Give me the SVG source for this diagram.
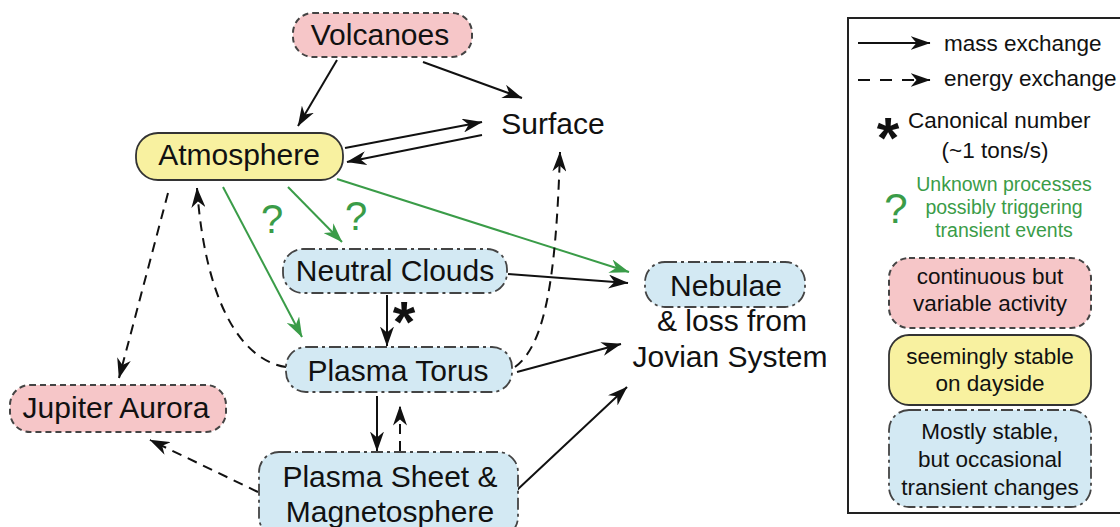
<svg xmlns="http://www.w3.org/2000/svg" width="1120" height="527" viewBox="0 0 1120 527">
<defs>
<marker id="ah" viewBox="0 0 20 14" refX="19.5" refY="7" markerWidth="20" markerHeight="14" orient="auto" markerUnits="userSpaceOnUse"><path d="M0,0 L20,7 L0,14 L6,7 Z" fill="#111"/></marker>
<marker id="ahg" viewBox="0 0 20 14" refX="19.5" refY="7" markerWidth="20" markerHeight="14" orient="auto" markerUnits="userSpaceOnUse"><path d="M0,0 L20,7 L0,14 L6,7 Z" fill="#3a9c48"/></marker>
<style>
text{font-family:"Liberation Sans",Arial,sans-serif;fill:#111}
.n{font-size:30px;text-anchor:middle}
.l{font-size:22.5px}
.lc{font-size:22.5px;text-anchor:middle}
.g{font-size:19.5px;fill:#3a9c48;text-anchor:middle}
.q{font-size:40px;fill:#3a9c48;text-anchor:middle}
.ast{font-size:58px;font-weight:bold;text-anchor:middle}
.pink{fill:#f6c6c8;stroke:#444;stroke-width:2;stroke-dasharray:6,4}
.yel{fill:#f8f1a0;stroke:#333;stroke-width:1.8}
.blue{fill:#d3e9f3;stroke:#444;stroke-width:1.8;stroke-dasharray:12,4,3,4}
.m{fill:none;stroke:#111;stroke-width:2;marker-end:url(#ah)}
.e{fill:none;stroke:#111;stroke-width:2;stroke-dasharray:10,7;marker-end:url(#ah)}
.gr{fill:none;stroke:#3a9c48;stroke-width:2;marker-end:url(#ahg)}
</style>
</defs>
<rect width="1120" height="527" fill="#fff"/>
<g id="connectors">
<path class="m" d="M337,60 L298,126"/>
<path class="m" d="M423,62 L522,98"/>
<path class="m" d="M345,148 L482,122"/>
<path class="m" d="M482,135 L347,162"/>
<path class="gr" d="M288,187 L342,242"/>
<path class="gr" d="M223,187 L302,337"/>
<path class="gr" d="M337,179 L629,272"/>
<path class="e" d="M168,193 L119,378"/>
<path class="e" d="M286,367 C240,360 205,300 197,188"/>
<path class="e" d="M515,367 C545,345 556,280 560,152"/>
<path class="m" d="M508,274 L628,283"/>
<path class="m" d="M387,295 L387,346"/>
<path class="m" d="M517,372 L621,344"/>
<path class="m" d="M377,396 L377,451"/>
<path class="e" d="M400,451 L400,406"/>
<path class="e" d="M258,492 L150,440"/>
<path class="m" d="M517,490 L627,387"/>
<text class="q" x="272" y="233">?</text>
<text class="q" x="356" y="230">?</text>
<text class="ast" x="404" y="342">*</text>
</g>
<g id="volcanoes"><rect class="pink" x="293" y="13" width="179" height="44" rx="20"/><text class="n" x="380" y="45">Volcanoes</text></g>
<g id="atmosphere"><rect class="yel" x="136" y="133" width="207" height="47" rx="22"/><text class="n" x="239" y="165">Atmosphere</text></g>
<g id="surface"><text class="n" x="553" y="134">Surface</text></g>
<g id="neutral-clouds"><rect class="blue" x="283" y="249" width="224" height="44" rx="20"/><text class="n" x="395" y="281">Neutral Clouds</text></g>
<g id="plasma-torus"><rect class="blue" x="286" y="347" width="226" height="45" rx="20"/><text class="n" x="398" y="381">Plasma Torus</text></g>
<g id="plasma-sheet"><rect class="blue" x="259" y="452" width="259" height="85" rx="20"/><text class="n" x="390" y="487">Plasma Sheet &amp;</text><text class="n" x="390" y="522">Magnetosphere</text></g>
<g id="nebulae"><rect class="blue" x="645" y="262" width="160" height="45" rx="20"/><text class="n" x="726" y="296">Nebulae</text><text class="n" x="732" y="331">&amp; loss from</text><text class="n" x="730" y="367">Jovian System</text></g>
<g id="jupiter-aurora"><rect class="pink" x="10" y="385" width="216" height="47" rx="20"/><text class="n" x="116" y="418">Jupiter Aurora</text></g>
<g id="legend">
<rect x="848" y="18" width="280" height="495" fill="none" stroke="#222" stroke-width="2"/>
<path class="m" d="M858,43 L930,43"/>
<text class="l" x="944" y="51">mass exchange</text>
<path class="e" d="M858,80 L930,80" style="stroke-dasharray:12,10"/>
<text class="l" x="944" y="86">energy exchange</text>
<text class="ast" x="888" y="158">*</text>
<text class="l" x="908" y="128">Canonical number</text>
<text class="lc" x="995" y="158">(~1 tons/s)</text>
<text class="q" x="896" y="223" style="font-size:42px">?</text>
<text class="g" x="1004" y="191">Unknown processes</text>
<text class="g" x="1004" y="214">possibly triggering</text>
<text class="g" x="1004" y="237">transient events</text>
<rect class="pink" x="889" y="258" width="202" height="70" rx="20"/>
<text class="lc" x="990" y="284">continuous but</text>
<text class="lc" x="990" y="311">variable activity</text>
<rect class="yel" x="889" y="335" width="202" height="70" rx="20"/>
<text class="lc" x="990" y="364">seemingly stable</text>
<text class="lc" x="990" y="391">on dayside</text>
<rect class="blue" x="889" y="410" width="202" height="97" rx="20"/>
<text class="lc" x="990" y="439">Mostly stable,</text>
<text class="lc" x="990" y="467">but occasional</text>
<text class="lc" x="990" y="495">transient changes</text>
</g>
</svg>
